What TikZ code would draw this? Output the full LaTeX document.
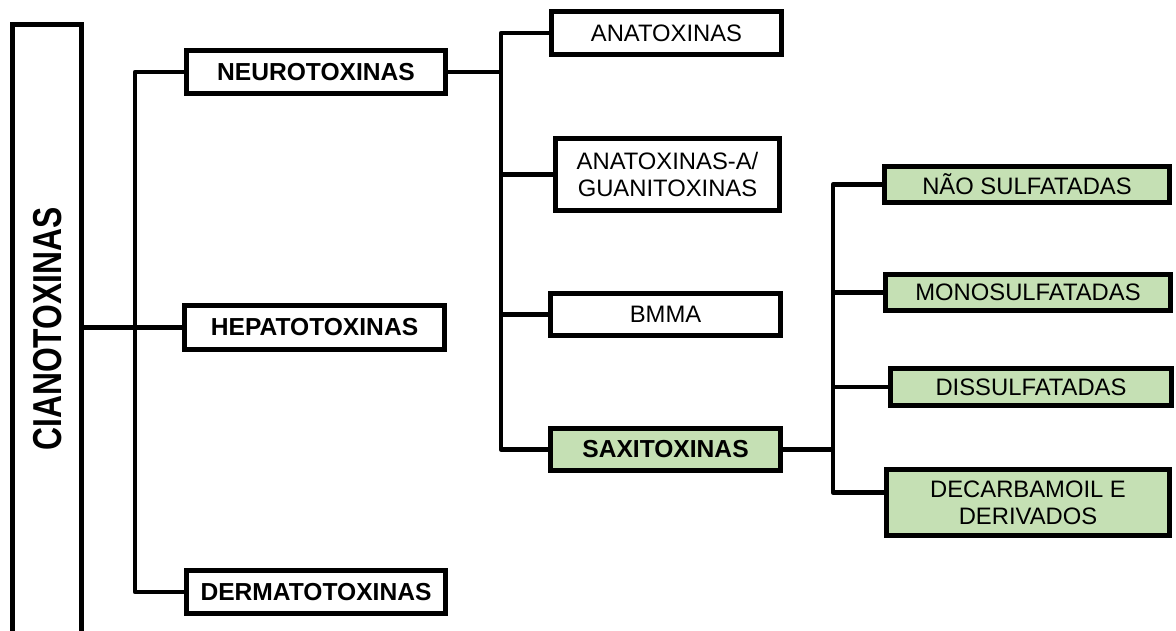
\documentclass[tikz,border=0pt]{standalone}
\usepackage{fontspec}
\setmainfont{Liberation Sans}
\definecolor{boxgreen}{HTML}{C5E0B4}
\begin{document}
\begin{tikzpicture}[x=1pt,y=-1pt,
  conn/.style={line width=4.6pt, line join=round},
  box/.style={draw, line width=5pt, fill=white, inner sep=0pt, align=center,
    font=\fontsize{23.8}{27}\selectfont},
  bbox/.style={box, font=\fontsize{24.6}{28}\selectfont\bfseries},
  greenbox/.style={fill=boxgreen}]
\useasboundingbox (0,0) rectangle (1176,631);

% bus positions
\coordinate (b1) at (135,0);
\coordinate (b2) at (501,0);
\coordinate (b3) at (833,0);

% nodes
\node[box, minimum width=69pt, minimum height=723pt] (cian) at (47,386) {};
\node[rotate=90, inner sep=0pt, font=\fontsize{31.8}{34}\selectfont\bfseries] (cianlab) at (47.5,329)
  {\scalebox{1}[1.27]{CIANOTOXINAS}};

\node[bbox, minimum width=259pt, minimum height=43pt] (neuro) at (316,72) {NEUROTOXINAS};
\node[bbox, minimum width=260pt, minimum height=44pt] (hepa) at (314.5,327.5) {HEPATOTOXINAS};
\node[bbox, minimum width=259pt, minimum height=43pt] (derma) at (316,592) {DERMATOTOXINAS};

\node[box, minimum width=230pt, minimum height=43pt] (anat) at (666.5,33) {ANATOXINAS};
\node[box, minimum width=224pt, minimum height=72pt] (anag) at (667.5,174.5) {ANATOXINAS-A/\\GUANITOXINAS};
\node[box, minimum width=230pt, minimum height=42pt] (bmma) at (665.5,314.5) {BMMA};
\node[bbox, greenbox, minimum width=230pt, minimum height=42pt] (saxi) at (665.5,449.5) {SAXITOXINAS};

\node[box, greenbox, minimum width=285pt, minimum height=36pt] (nao) at (1027,184.5) {NÃO SULFATADAS};
\node[box, greenbox, minimum width=285pt, minimum height=36pt] (mono) at (1028,292.5) {MONOSULFATADAS};
\node[box, greenbox, minimum width=281pt, minimum height=37pt] (diss) at (1031,387) {DISSULFATADAS};
\node[box, greenbox, minimum width=283pt, minimum height=66pt] (deca) at (1028,502.5) {DECARBAMOIL E\\DERIVADOS};

\coordinate (dc) at ([yshift=10pt]deca.west);

% connectors
\draw[conn] (neuro.west) -| (b1 |- derma.west) -- (derma.west);
\draw[conn] (cian.east |- hepa.west) -- (hepa.west);

\draw[conn] (neuro.east) -- (neuro.east -| b2);
\draw[conn] (anat.west) -| (b2 |- saxi.west) -- (saxi.west);
\draw[conn] (anag.west) -- (anag.west -| b2);
\draw[conn] (bmma.west) -- (bmma.west -| b2);

\draw[conn] (saxi.east) -- (saxi.east -| b3);
\draw[conn] (nao.west) -| (b3 |- dc) -- (dc);
\draw[conn] (mono.west) -- (mono.west -| b3);
\draw[conn] (diss.west) -- (diss.west -| b3);
\end{tikzpicture}
\end{document}
